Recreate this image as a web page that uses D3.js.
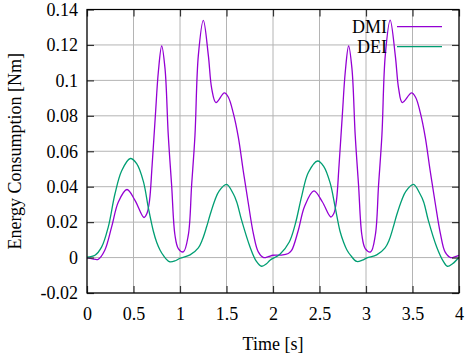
<!DOCTYPE html>
<html lang="en">
<head>
    <meta charset="UTF-8">
    <title>Energy Consumption</title>
    <style>
        body { margin: 0; background: #fff; }
        text { font-family: "Liberation Serif", "DejaVu Serif", serif; fill: #000; }
    </style>
</head>
<body>
<svg height="359" width="466"></svg>

<script src="https://cdn.jsdelivr.net/npm/d3@7/dist/d3.min.js"></script>
<script>

    // DMI curve (time in s, torque in Nm)
    var dmiTime = [0, 0.06, 0.12, 0.19, 0.265, 0.337, 0.43, 0.516, 0.613, 0.645, 0.672, 0.7, 0.735, 0.767, 0.803, 0.839, 0.874, 0.91, 0.946, 0.982, 1.036, 1.089, 1.125, 1.161, 1.197, 1.251, 1.305, 1.341, 1.387, 1.477, 1.52, 1.573, 1.627, 1.68, 1.735, 1.789, 1.842, 1.9, 1.95, 2.0, 2.09,
                   2.165, 2.2, 2.27, 2.34, 2.44, 2.53, 2.622, 2.655, 2.682, 2.71, 2.745, 2.777, 2.813, 2.849, 2.884, 2.92, 2.956, 2.992, 3.05, 3.1, 3.135, 3.171, 3.207, 3.26, 3.315, 3.351, 3.39, 3.49, 3.533, 3.585, 3.637, 3.69, 3.745, 3.8, 3.85, 3.91, 3.96, 4.0];
    var dmiValue = [0, -0.0007, -0.001, 0.004, 0.0173, 0.0314, 0.0384, 0.0323, 0.0226, 0.025, 0.032, 0.052, 0.08, 0.1047, 0.1194, 0.1066, 0.069, 0.0408, 0.0126, 0.0051, 0.0032, 0.0126, 0.0408, 0.069, 0.114, 0.1339, 0.114, 0.0954, 0.0875, 0.0929, 0.0905, 0.0815, 0.068, 0.049, 0.0305, 0.0135, 0.0032, 0, 0.0005, 0.0013, 0.0014,
                    0.0023, 0.004, 0.015, 0.029, 0.0376, 0.0315, 0.0229, 0.025, 0.032, 0.052, 0.08, 0.1047, 0.1194, 0.1066, 0.069, 0.0408, 0.0126, 0.0051, 0.0032, 0.0126, 0.0408, 0.069, 0.114, 0.134, 0.114, 0.0954, 0.0875, 0.0929, 0.0905, 0.0815, 0.068, 0.049, 0.0305, 0.0135, 0.0032, 0, 0.0005, 0.0012];

    // DEI curve
    var deiTime = [0, 0.086, 0.158, 0.229, 0.301, 0.373, 0.465, 0.534, 0.606, 0.66, 0.713, 0.75, 0.785, 0.821, 0.885, 0.95, 1.0, 1.108, 1.197, 1.24, 1.287, 1.323, 1.376, 1.42, 1.5, 1.573, 1.61, 1.663, 1.753, 1.82, 1.878, 1.93, 1.968, 2.075,
                   2.175, 2.24, 2.31, 2.38, 2.48, 2.545, 2.615, 2.67, 2.72, 2.76, 2.795, 2.835, 2.9, 2.96, 3.01, 3.115, 3.205, 3.25, 3.295, 3.33, 3.385, 3.43, 3.51, 3.58, 3.62, 3.67, 3.76, 3.83, 3.875, 3.93, 4.0];
    var deiValue = [0.0003, 0.0013, 0.006, 0.0173, 0.036, 0.049, 0.0559, 0.053, 0.043, 0.028, 0.015, 0.0085, 0.0043, 0.0012, -0.0023, -0.0018, -0.0004, 0.0015, 0.0055, 0.01, 0.0175, 0.024, 0.0325, 0.0375, 0.0413, 0.036, 0.0314, 0.021, 0.006, -0.002, -0.0049, -0.0035, -0.0015, 0.0019,
                    0.0088, 0.019, 0.035, 0.048, 0.0545, 0.0515, 0.042, 0.028, 0.015, 0.0085, 0.0043, 0.0012, -0.0022, -0.0015, -0.0002, 0.0015, 0.0055, 0.01, 0.0175, 0.024, 0.0325, 0.0375, 0.0413, 0.036, 0.0314, 0.021, 0.006, -0.002, -0.0049, -0.0035, 0.0002];

    var seriesNames = ["DMI", "DEI"];
    var seriesColors = ["#9400d3", "#009e73"];

    var xTicks = [0, 0.5, 1, 1.5, 2, 2.5, 3, 3.5, 4];
    var yTicks = [-0.02, 0, 0.02, 0.04, 0.06, 0.08, 0.1, 0.12, 0.14];

    var margin = {top: 9.5, right: 7, bottom: 66, left: 87};

    var svg = d3.select("svg");
    var width = +svg.attr("width");
    var height = +svg.attr("height");

    var x = d3.scaleLinear().domain([0, 4]).range([margin.left, width - margin.right]);
    var y = d3.scaleLinear().domain([-0.02, 0.14]).range([height - margin.bottom, margin.top]);

    var fontSize = 18;

    // grid
    var grid = svg.append("g").attr("stroke", "#b4b4b4").attr("stroke-width", 1);
    grid.selectAll(".gx").data(xTicks).enter().append("line")
        .attr("x1", function(d) { return x(d); }).attr("x2", function(d) { return x(d); })
        .attr("y1", y.range()[0]).attr("y2", y.range()[1]);
    grid.selectAll(".gy").data(yTicks).enter().append("line")
        .attr("x1", x.range()[0]).attr("x2", x.range()[1])
        .attr("y1", function(d) { return y(d); }).attr("y2", function(d) { return y(d); });

    // curves
    var series = [
        {name: seriesNames[0], color: seriesColors[0], points: d3.zip(dmiTime, dmiValue)},
        {name: seriesNames[1], color: seriesColors[1], points: d3.zip(deiTime, deiValue)}
    ];

    var line = d3.line()
        .x(function(d) { return x(d[0]); })
        .y(function(d) { return y(d[1]); })
        .curve(d3.curveCatmullRom.alpha(0.5));

    svg.selectAll(".curve").data(series).enter().append("path")
        .attr("class", "curve")
        .attr("d", function(d) { return line(d.points); })
        .attr("fill", "none")
        .attr("stroke", function(d) { return d.color; })
        .attr("stroke-width", 1.3);

    // axes, ticks point inward and are mirrored on top / right
    var xAxis = d3.axisBottom(x).tickValues(xTicks).tickSize(-7).tickPadding(14).tickFormat(String);
    var yAxis = d3.axisLeft(y).tickValues(yTicks).tickSize(-7).tickPadding(9).tickFormat(String);

    svg.append("g").attr("transform", "translate(0," + y.range()[0] + ")").call(xAxis);
    svg.append("g").attr("transform", "translate(" + x.range()[0] + ",0)").call(yAxis);
    svg.append("g").attr("transform", "translate(0," + y.range()[1] + ")")
        .call(d3.axisTop(x).tickValues(xTicks).tickSize(-7).tickFormat(""));
    svg.append("g").attr("transform", "translate(" + x.range()[1] + ",0)")
        .call(d3.axisRight(y).tickValues(yTicks).tickSize(-7).tickFormat(""));

    svg.selectAll(".domain").remove();
    svg.selectAll(".tick line").attr("stroke", "#333").attr("stroke-width", 1.2);
    svg.selectAll(".tick text")
        .style("font-family", "'Liberation Serif', serif")
        .style("font-size", fontSize + "px")
        .attr("fill", "#000");

    // border
    svg.append("rect")
        .attr("x", x.range()[0]).attr("y", y.range()[1])
        .attr("width", x.range()[1] - x.range()[0])
        .attr("height", y.range()[0] - y.range()[1])
        .attr("fill", "none").attr("stroke", "#000").attr("stroke-width", 1.2);

    // axis titles
    svg.append("text")
        .attr("x", (x.range()[0] + x.range()[1]) / 2)
        .attr("y", 350)
        .attr("text-anchor", "middle")
        .style("font-size", fontSize + "px")
        .text("Time [s]");

    svg.append("text")
        .attr("transform", "translate(21," + (y.range()[0] + y.range()[1]) / 2 + ") rotate(-90)")
        .attr("text-anchor", "middle")
        .style("font-size", fontSize + "px")
        .text("Energy Consumption [Nm]");

    // legend
    var legend = svg.append("g").selectAll("g").data(series).enter().append("g")
        .attr("transform", function(d, i) { return "translate(0," + (26.7 + i * 20) + ")"; });
    legend.append("text")
        .attr("x", 387).attr("y", 6.6)
        .attr("text-anchor", "end")
        .style("font-size", fontSize + "px")
        .text(function(d) { return d.name; });
    legend.append("line")
        .attr("x1", 397).attr("x2", 442)
        .attr("stroke", function(d) { return d.color; })
        .attr("stroke-width", 1.3);

</script>
</body>
</html>
